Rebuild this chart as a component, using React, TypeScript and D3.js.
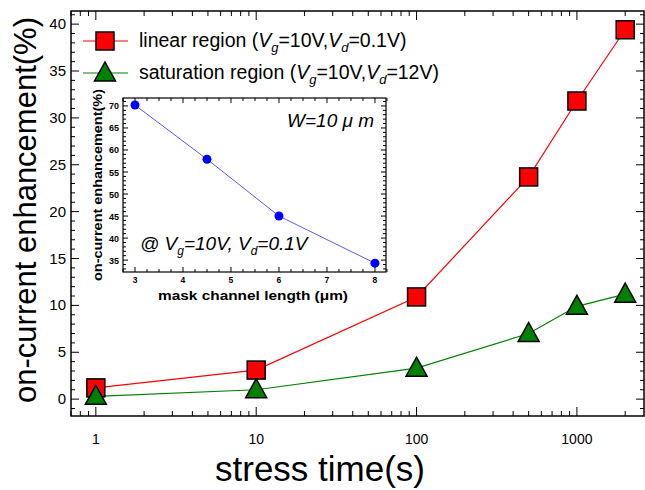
import React from "react";
import * as d3 from "d3";

// main chart data
const stressTime = [1, 10, 100, 500, 1000, 2000];
const linearVals = [1.2, 3.1, 10.9, 23.7, 31.8, 39.4];
const saturationVals = [0.3, 1.0, 3.3, 7.0, 9.9, 11.2];
const xTickVals = [1, 10, 100, 1000];
const yTickVals = [0, 5, 10, 15, 20, 25, 30, 35, 40];

// inset data
const channelLength = [3, 4.5, 6, 8];
const insetVals = [70.2, 57.9, 45.0, 34.3];
const insetXTicks = [3, 4, 5, 6, 7, 8];
const insetYTicks = [35, 40, 45, 50, 55, 60, 65, 70];

const FONT = "Arial, 'Liberation Sans', sans-serif";

const App = () => {
  // main frame
  const left = 71, right = 644, top = 11, bottom = 416;
  const x = d3.scaleLog().domain([0.7, 2620]).range([left, right]);
  const y = d3.scaleLinear().domain([-1.8, 41.4]).range([bottom, top]);

  const xMinor: number[] = [];
  [0.1, 1, 10, 100, 1000].forEach((dec) => {
    for (let k = 2; k <= 9; k++) {
      const v = dec * k;
      if (v > 0.7 && v < 2620) xMinor.push(v);
    }
  });
  const yMinor = d3.range(-1, 42).filter((v) => v % 5 !== 0);

  const line = d3
    .line<number>()
    .x((_, i) => x(stressTime[i]))
    .y((d) => y(d));

  // inset frame
  const il = 123, ir = 386, it = 98, ib = 272;
  const ix = d3.scaleLinear().domain([2.75, 8.23]).range([il, ir]);
  const iy = d3.scaleLinear().domain([32.3, 71.8]).range([ib, it]);
  const ixMinor = d3.range(2.75, 8.26, 0.25).filter((v) => Math.abs(v - Math.round(v)) > 0.01);
  const iyMinor = d3.range(33, 72).filter((v) => v % 5 !== 0);
  const insetLine = d3
    .line<number>()
    .x((_, i) => ix(channelLength[i]))
    .y((d) => iy(d));

  const sq = 18;
  const tri = (cx: number, cy: number) =>
    `M${cx},${cy - 11} L${cx + 10.5},${cy + 8} L${cx - 10.5},${cy + 8} Z`;

  return (
    <svg
      width={645}
      height={490}
      style={{ position: "absolute", left: 0, top: 0, background: "#fff" }}
      fontFamily={FONT}
    >
      <rect x={0} y={0} width={645} height={490} fill="#fff" />

      {/* ticks main */}
      <g stroke="#000" strokeWidth={1}>
        {yTickVals.map((v) => (
          <g key={"ym" + v}>
            <line x1={left} x2={left + 8} y1={y(v)} y2={y(v)} />
            <line x1={right} x2={right - 8} y1={y(v)} y2={y(v)} />
          </g>
        ))}
        {yMinor.map((v) => (
          <g key={"yn" + v}>
            <line x1={left} x2={left + 4} y1={y(v)} y2={y(v)} />
            <line x1={right} x2={right - 4} y1={y(v)} y2={y(v)} />
          </g>
        ))}
        {xTickVals.map((v) => (
          <g key={"xm" + v}>
            <line x1={x(v)} x2={x(v)} y1={bottom} y2={bottom - 9} />
            <line x1={x(v)} x2={x(v)} y1={top} y2={top + 9} />
          </g>
        ))}
        {xMinor.map((v) => (
          <g key={"xn" + v}>
            <line x1={x(v)} x2={x(v)} y1={bottom} y2={bottom - 5} />
            <line x1={x(v)} x2={x(v)} y1={top} y2={top + 5} />
          </g>
        ))}
      </g>
      <rect x={left} y={top} width={right - left} height={bottom - top} fill="none" stroke="#000" strokeWidth={1.5} />

      {/* tick labels */}
      {yTickVals.map((v) => (
        <text key={"yl" + v} x={left - 5} y={y(v) + 5} fontSize={15} textAnchor="end">
          {v}
        </text>
      ))}
      {xTickVals.map((v) => (
        <text key={"xl" + v} x={x(v)} y={444} fontSize={14} textAnchor="middle">
          {v}
        </text>
      ))}

      {/* axis titles */}
      <text
        transform={`translate(36, 210) rotate(-90)`}
        fontSize={31}
        textAnchor="middle"
      >
        on-current enhancement(%)
      </text>
      <text x={320} y={481} fontSize={35} textAnchor="middle">
        stress time(s)
      </text>

      {/* series */}
      <path d={line(linearVals) || ""} fill="none" stroke="#ff0000" strokeWidth={1.2} />
      <path d={line(saturationVals) || ""} fill="none" stroke="#008000" strokeWidth={1.2} />
      {linearVals.map((v, i) => (
        <rect
          key={"r" + i}
          x={x(stressTime[i]) - sq / 2}
          y={y(v) - sq / 2}
          width={sq}
          height={sq}
          fill="#ff0000"
          stroke="#000"
          strokeWidth={1.5}
        />
      ))}
      {saturationVals.map((v, i) => (
        <path key={"t" + i} d={tri(x(stressTime[i]), y(v))} fill="#008000" stroke="#000" strokeWidth={1.5} />
      ))}

      {/* legend */}
      <line x1={83} x2={128} y1={41} y2={41} stroke="#ff0000" strokeWidth={1.2} />
      <rect x={105 - sq / 2} y={41 - sq / 2} width={sq} height={sq} fill="#ff0000" stroke="#000" strokeWidth={1.5} />
      <text x={139} y={47} fontSize={19.5}>
        linear region (<tspan fontStyle="italic">V</tspan>
        <tspan fontStyle="italic" fontSize={13} dy={5}>g</tspan>
        <tspan dy={-5}>=10V,</tspan>
        <tspan fontStyle="italic">V</tspan>
        <tspan fontStyle="italic" fontSize={13} dy={5}>d</tspan>
        <tspan dy={-5}>=0.1V)</tspan>
      </text>
      <line x1={83} x2={128} y1={73} y2={73} stroke="#008000" strokeWidth={1.2} />
      <path d={tri(105, 73)} fill="#008000" stroke="#000" strokeWidth={1.5} />
      <text x={139} y={79} fontSize={19.5}>
        saturation region (<tspan fontStyle="italic">V</tspan>
        <tspan fontStyle="italic" fontSize={13} dy={5}>g</tspan>
        <tspan dy={-5}>=10V,</tspan>
        <tspan fontStyle="italic">V</tspan>
        <tspan fontStyle="italic" fontSize={13} dy={5}>d</tspan>
        <tspan dy={-5}>=12V)</tspan>
      </text>

      {/* inset */}
      <rect x={il} y={it} width={ir - il} height={ib - it} fill="#fff" />
      <g stroke="#000" strokeWidth={1}>
        {insetYTicks.map((v) => (
          <g key={"iym" + v}>
            <line x1={il} x2={il + 5} y1={iy(v)} y2={iy(v)} />
            <line x1={ir} x2={ir - 5} y1={iy(v)} y2={iy(v)} />
          </g>
        ))}
        {iyMinor.map((v) => (
          <g key={"iyn" + v}>
            <line x1={il} x2={il + 3} y1={iy(v)} y2={iy(v)} />
            <line x1={ir} x2={ir - 3} y1={iy(v)} y2={iy(v)} />
          </g>
        ))}
        {insetXTicks.map((v) => (
          <g key={"ixm" + v}>
            <line x1={ix(v)} x2={ix(v)} y1={ib} y2={ib - 5} />
            <line x1={ix(v)} x2={ix(v)} y1={it} y2={it + 5} />
          </g>
        ))}
        {ixMinor.map((v) => (
          <g key={"ixn" + v}>
            <line x1={ix(v)} x2={ix(v)} y1={ib} y2={ib - 3} />
            <line x1={ix(v)} x2={ix(v)} y1={it} y2={it + 3} />
          </g>
        ))}
      </g>
      <rect x={il} y={it} width={ir - il} height={ib - it} fill="none" stroke="#000" strokeWidth={1.2} />
      {insetYTicks.map((v) => (
        <text key={"iyl" + v} x={il - 4} y={iy(v) + 3.5} fontSize={9} fontWeight="bold" textAnchor="end">
          {v}
        </text>
      ))}
      {insetXTicks.map((v) => (
        <text key={"ixl" + v} x={ix(v)} y={283} fontSize={8.5} fontWeight="bold" textAnchor="middle">
          {v}
        </text>
      ))}
      <text
        transform={`translate(102, 185) rotate(-90)`}
        fontSize={12}
        fontWeight="bold"
        textAnchor="middle"
        textLength={192}
        lengthAdjust="spacingAndGlyphs"
      >
        on-current enhancement(%)
      </text>
      <text
        x={253}
        y={300}
        fontSize={13.5}
        fontWeight="bold"
        textAnchor="middle"
        textLength={190}
        lengthAdjust="spacingAndGlyphs"
      >
        mask channel length (μm)
      </text>
      <path d={insetLine(insetVals) || ""} fill="none" stroke="#5a5aff" strokeWidth={1} />
      {insetVals.map((v, i) => (
        <circle key={"c" + i} cx={ix(channelLength[i])} cy={iy(v)} r={4.5} fill="#0000ff" />
      ))}
      <text x={374} y={127} fontSize={19} fontStyle="italic" textAnchor="end">
        W=10 μ m
      </text>
      <text x={140} y={250} fontSize={19} fontStyle="italic">
        @ V<tspan fontSize={12} dy={5}>g</tspan>
        <tspan dy={-5}>=10V, V</tspan>
        <tspan fontSize={12} dy={5}>d</tspan>
        <tspan dy={-5}>=0.1V</tspan>
      </text>
    </svg>
  );
};

export default App;
